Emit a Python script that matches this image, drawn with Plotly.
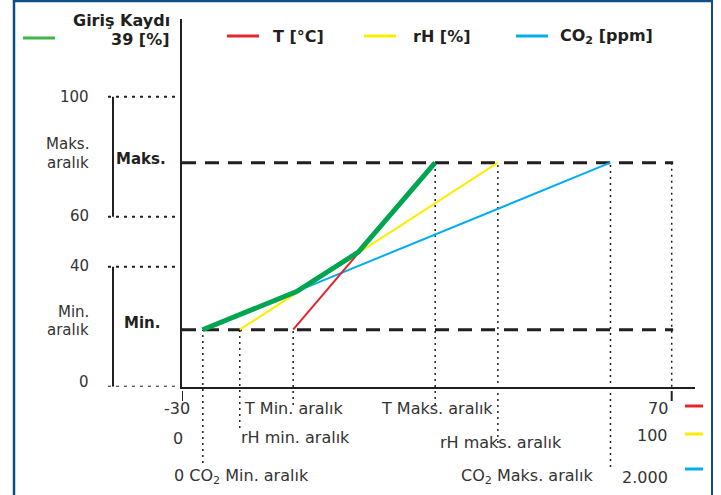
import numpy as np
import plotly.graph_objects as go

W, H = 721, 495

# ---------------- data ----------------
# Output scale (Giriş Kaydı, %) – printed ticks and their schematic spacing
Y_TICKS = [0, 40, 60, 100]
Y_TICK_POS = [0, 40, 56.67, 96.67]
OUT_MIN = 19          # "Min." output level [%]
OUT_MAX = 78          # "Maks." output level [%]

# Input axis spans (same horizontal extent)
T_RANGE = [-30, 70]
RH_RANGE = [0, 100]
CO2_RANGE = [0, 2000]

# Ramp start/end points (Min. aralık / Maks. aralık)
T_POINTS = [-7.3, 21.7]
RH_POINTS = [11.8, 64.5]
CO2_POINTS = [85, 1750]
RAMP_OUT = [OUT_MIN, OUT_MAX]

# Resulting output curve (Giriş Kaydı), x in T-axis units
GIRIS_X = [-25.8, -6.6, 6.0, 21.7]
GIRIS_Y = [19, 31.7, 45.8, 78]

COLORS = {"T": "#e3262b", "rH": "#ffec00", "CO2": "#00adee", "G": "#00a551", "Gleg": "#3fb549"}
INK = "#231f20"
TXT = "#333333"
FONT = "DejaVu Sans"

# ---------------- geometry ----------------
AX_L, AX_R, AX_70 = 182, 695, 671.7
AX_B, AX_T = 386.7, 19
PX_PER = (AX_70 - AX_L) / (T_RANGE[1] - T_RANGE[0])
LVL_PX = 3.0


def to_x(v, rng):
    return T_RANGE[0] + (v - rng[0]) / (rng[1] - rng[0]) * (T_RANGE[1] - T_RANGE[0])


def to_lvl(p):
    return float(np.interp(p, Y_TICKS, Y_TICK_POS))


def pxx(x):
    return x / W


def pxy(y):
    return 1 - y / H


def lvl_paper(l):
    return pxy(AX_B - LVL_PX * l)


fig = go.Figure()

series = [
    ("CO2", [to_x(v, CO2_RANGE) for v in CO2_POINTS], RAMP_OUT, 2),
    ("rH", [to_x(v, RH_RANGE) for v in RH_POINTS], RAMP_OUT, 2),
    ("T", [to_x(v, T_RANGE) for v in T_POINTS], RAMP_OUT, 2),
    ("G", GIRIS_X, GIRIS_Y, 5),
]
for key, xs, ys, w in series:
    fig.add_trace(go.Scatter(x=xs, y=[to_lvl(v) for v in ys], mode="lines",
                             line=dict(color=COLORS[key], width=w), hoverinfo="skip",
                             showlegend=False))

shapes = []
# frame
shapes.append(dict(type="line", xref="paper", yref="paper", x0=pxx(13), x1=pxx(713), y0=pxy(1), y1=pxy(1),
                   line=dict(color="#0e4d85", width=2.5)))
shapes.append(dict(type="line", xref="paper", yref="paper", x0=pxx(14), x1=pxx(14), y0=0, y1=1,
                   line=dict(color="#0e4d85", width=2.5)))
shapes.append(dict(type="line", xref="paper", yref="paper", x0=pxx(712), x1=pxx(712), y0=0, y1=1,
                   line=dict(color="#0e4d85", width=2)))

# dashed Min / Maks lines
for lv in (OUT_MIN, OUT_MAX):
    shapes.append(dict(type="line", xref="x", yref="y", x0=T_RANGE[0], x1=T_RANGE[1] + 0.3,
                       y0=to_lvl(lv), y1=to_lvl(lv), layer="below",
                       line=dict(color=INK, width=3, dash="14px,9px")))

# vertical dotted guides (x, output level, bottom pixel)
guides = [
    (to_x(CO2_POINTS[0], CO2_RANGE), OUT_MIN, 463),
    (to_x(RH_POINTS[0], RH_RANGE), OUT_MIN, 428),
    (to_x(T_POINTS[0], T_RANGE), OUT_MIN, 405),
    (to_x(T_POINTS[1], T_RANGE), OUT_MAX, 405),
    (to_x(RH_POINTS[1], RH_RANGE), OUT_MAX, 443),
    (to_x(CO2_POINTS[1], CO2_RANGE), OUT_MAX, 467),
    (T_RANGE[1], OUT_MAX, AX_B),
]
for gx, lv, yb in guides:
    shapes.append(dict(type="line", xref="x", yref="paper", x0=gx, x1=gx,
                       y0=pxy(yb), y1=lvl_paper(to_lvl(lv)), layer="below",
                       line=dict(color=INK, width=1.5, dash="2px,4px")))

# left dotted tick lines
for tp in Y_TICK_POS:
    shapes.append(dict(type="line", xref="paper", yref="y", x0=pxx(108), x1=pxx(AX_L), y0=tp, y1=tp,
                       line=dict(color=INK, width=2, dash="3px,5px")))
# brackets
for a, b in ((Y_TICK_POS[3], Y_TICK_POS[2]), (Y_TICK_POS[1], Y_TICK_POS[0])):
    shapes.append(dict(type="line", xref="paper", yref="y", x0=pxx(113), x1=pxx(113), y0=a, y1=b,
                       line=dict(color=INK, width=2)))
# end ticks below axis
for tx in T_RANGE:
    shapes.append(dict(type="line", xref="x", yref="paper", x0=tx, x1=tx, y0=pxy(391), y1=pxy(401),
                       line=dict(color=INK, width=2)))

# legend swatches
for c, x0, x1, y in ((COLORS["Gleg"], 23, 55, 38), (COLORS["T"], 227, 259, 36),
                     (COLORS["rH"], 364, 396, 36), (COLORS["CO2"], 516, 548, 36),
                     (COLORS["T"], 685, 703, 406), (COLORS["rH"], 685, 703, 434),
                     (COLORS["CO2"], 685, 703, 469)):
    shapes.append(dict(type="line", xref="paper", yref="paper", x0=pxx(x0), x1=pxx(x1), y0=pxy(y), y1=pxy(y),
                       line=dict(color=c, width=3)))

ann = []


def text(t, x, y, anchor="left", size=16, bold=False, color=TXT):
    if bold:
        t = "<b>" + t + "</b>"
    ann.append(dict(text=t, x=pxx(x), y=pxy(y), xref="paper", yref="paper", xanchor=anchor,
                    yanchor="middle", showarrow=False, font=dict(family=FONT, size=size, color=color)))


# legend text
text("Giriş Kaydı", 172, 20, "right", 16, True, INK)
text("39 [%]", 172, 40, "right", 16, True, INK)
text("T [°C]", 271, 36, "left", 16, True, INK)
text("rH [%]", 411, 36, "left", 16, True, INK)
text("CO<sub>2</sub> [ppm]", 558, 36, "left", 16, True, INK)

# y labels
for lab, yp in zip(Y_TICKS, (382, 265.5, 215.5, 97)):
    text(str(lab), 91, yp, "right", 15)
text("Maks.", 91, 144, "right", 15)
text("aralık", 91, 163, "right", 15)
text("Min.", 91, 312, "right", 15)
text("aralık", 91, 330, "right", 15)
text("Maks.", 114, 159, "left", 15, True, INK)
text("Min.", 122, 323, "left", 15, True, INK)

# x labels
text("-30", 177, 408, "center")
text("T Min. aralık", 242, 408)
text("T Maks. aralık", 379, 408)
text("70", 670, 408, "right")
text("0", 178, 438, "center")
text("rH min. aralık", 239, 437)
text("rH maks. aralık", 438, 442)
text("100", 670, 435, "right")
text("0 CO<sub>2</sub> Min. aralık", 172, 476)
text("CO<sub>2</sub> Maks. aralık", 459, 476)
text("2.000", 670, 477, "right")

fig.update_layout(
    width=W, height=H, autosize=False,
    margin=dict(l=0, r=0, t=0, b=0, pad=0),
    paper_bgcolor="white", plot_bgcolor="white",
    shapes=shapes, annotations=ann, showlegend=False,
    xaxis=dict(domain=[AX_L / W, AX_R / W], range=[T_RANGE[0], T_RANGE[0] + (AX_R - AX_L) / PX_PER],
               showgrid=False, zeroline=False, showticklabels=False, ticks="",
               showline=True, linecolor=INK, linewidth=2, fixedrange=True),
    yaxis=dict(domain=[1 - AX_B / H, 1 - AX_T / H], range=[0, (AX_B - AX_T) / LVL_PX],
               showgrid=False, zeroline=False, showticklabels=False, ticks="",
               showline=True, linecolor=INK, linewidth=2, fixedrange=True),
)

fig.write_html("out.html", config={"displayModeBar": False},
               post_script="document.body.style.margin='0';document.body.style.overflow='hidden';")
